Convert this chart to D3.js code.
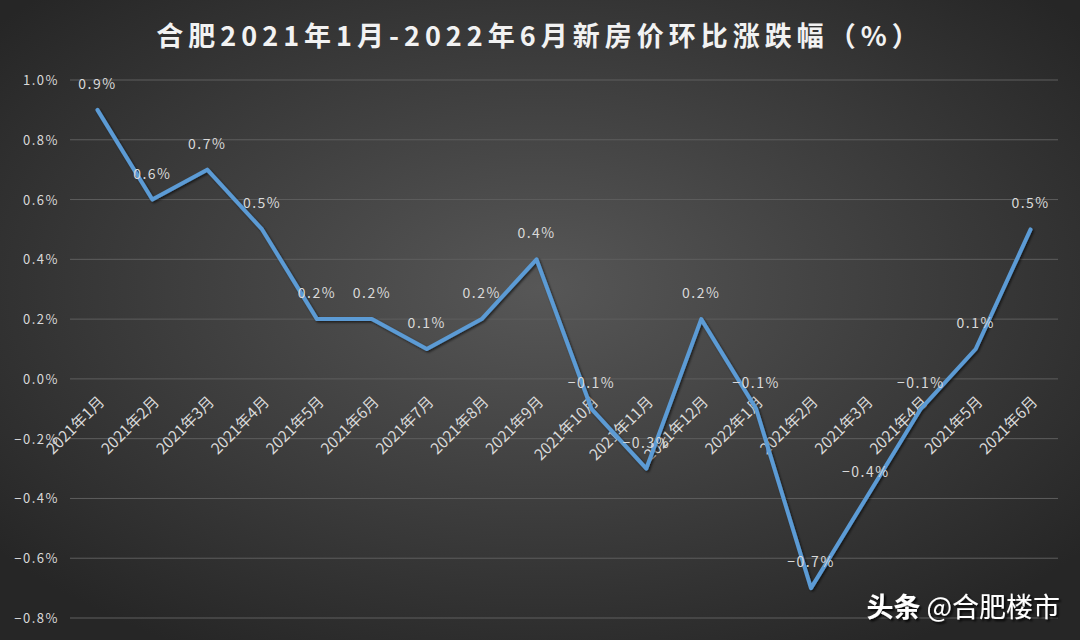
<!DOCTYPE html>
<html>
<head>
<meta charset="utf-8">
<script src="https://cdn.jsdelivr.net/npm/d3@7"></script>
<style>
  html, body { margin: 0; padding: 0; background: #333; }
  svg { display: block; }
</style>
</head>
<body>
<div id="chart"></div>
<script>
// Data
const months = ['2021年1月', '2021年2月', '2021年3月', '2021年4月', '2021年5月', '2021年6月',
    '2021年7月', '2021年8月', '2021年9月', '2021年10月', '2021年11月', '2021年12月',
    '2022年1月', '2021年2月', '2021年3月', '2021年4月', '2021年5月', '2021年6月'];
const changes = [0.9, 0.6, 0.7, 0.5, 0.2, 0.2, 0.1, 0.2, 0.4, -0.1, -0.3, 0.2, -0.1, -0.7, -0.4, -0.1, 0.1, 0.5];
const yTicks = [1.0, 0.8, 0.6, 0.4, 0.2, 0.0, -0.2, -0.4, -0.6, -0.8];

const W = 1080, H = 640;
const plotLeft = 70, plotRight = 1058, plotTop = 80, plotBottom = 618;
const font = '"Noto Sans CJK SC", "Noto Sans", sans-serif';

const data = months.map((m, i) => ({ i: i, month: m, value: changes[i] }));

const svg = d3.select('#chart').append('svg')
    .attr('width', W)
    .attr('height', H);

// Background gradient
const defs = svg.append('defs');
const grad = defs.append('radialGradient')
    .attr('id', 'bg')
    .attr('cx', '50%').attr('cy', '45%').attr('r', '65%');
grad.append('stop').attr('offset', '0%').attr('stop-color', '#575757');
grad.append('stop').attr('offset', '100%').attr('stop-color', '#262626');

const shadow = defs.append('filter').attr('id', 'shadow')
    .attr('x', '-5%').attr('y', '-5%').attr('width', '110%').attr('height', '110%');
shadow.append('feDropShadow')
    .attr('dx', 1.5).attr('dy', 1.5).attr('stdDeviation', 1.2)
    .attr('flood-color', '#000').attr('flood-opacity', 0.6);

const textShadow = defs.append('filter').attr('id', 'textShadow')
    .attr('x', '-5%').attr('y', '-20%').attr('width', '110%').attr('height', '140%');
textShadow.append('feDropShadow')
    .attr('dx', 2).attr('dy', 2).attr('stdDeviation', 1)
    .attr('flood-color', '#000').attr('flood-opacity', 0.9);

svg.append('rect')
    .attr('width', W).attr('height', H)
    .attr('fill', 'url(#bg)');

// Scales
const x = d3.scaleBand()
    .domain(data.map(d => d.i))
    .range([plotLeft, plotRight]);

const y = d3.scaleLinear()
    .domain([-0.8, 1.0])
    .range([plotBottom, plotTop]);

const cx = d => x(d.i) + x.bandwidth() / 2;

// Gridlines
svg.append('g')
    .selectAll('line')
    .data(yTicks)
    .enter().append('line')
    .attr('x1', plotLeft).attr('x2', plotRight)
    .attr('y1', d => y(d)).attr('y2', d => y(d))
    .attr('stroke', '#5e5e5e')
    .attr('stroke-width', 1);

// Y axis labels
svg.append('g')
    .selectAll('text')
    .data(yTicks)
    .enter().append('text')
    .attr('x', 59)
    .attr('y', d => y(d) + 5)
    .attr('text-anchor', 'end')
    .attr('fill', '#d9d9d9')
    .style('font-family', font)
    .style('font-size', '13px')
    .style('letter-spacing', '1.5px')
    .text(d => d.toFixed(1).replace('-', '−') + '%');

// X axis labels at the zero line
svg.append('g')
    .selectAll('text')
    .data(data)
    .enter().append('text')
    .attr('text-anchor', 'end')
    .attr('transform', d => 'translate(' + (cx(d) + 8) + ',' + (y(0) + 24) + ') rotate(-45)')
    .attr('fill', '#d9d9d9')
    .style('font-family', font)
    .style('font-size', '15.5px')
    .text(d => d.month);

// Line
svg.append('path')
    .datum(data)
    .attr('fill', 'none')
    .attr('stroke', '#5b9bd5')
    .attr('stroke-width', 4)
    .attr('stroke-linejoin', 'round')
    .attr('stroke-linecap', 'round')
    .attr('filter', 'url(#shadow)')
    .attr('d', d3.line()
        .x(d => cx(d))
        .y(d => y(d.value)));

// Data labels
svg.append('g')
    .selectAll('text')
    .data(data)
    .enter().append('text')
    .attr('x', d => cx(d))
    .attr('y', d => y(d.value) - 21)
    .attr('text-anchor', 'middle')
    .attr('fill', '#d9d9d9')
    .style('font-family', font)
    .style('font-size', '14px')
    .style('letter-spacing', '1.5px')
    .text(d => d.value.toFixed(1).replace('-', '−') + '%');

// Title
svg.append('text')
    .attr('x', W / 2)
    .attr('y', 46)
    .attr('text-anchor', 'middle')
    .attr('fill', '#f2f2f2')
    .style('font-family', font)
    .style('font-size', '27px')
    .style('font-weight', 'bold')
    .style('letter-spacing', '5px')
    .text('合肥2021年1月-2022年6月新房价环比涨跌幅（%）');

// Watermark
const wm = svg.append('text')
    .attr('x', 1060)
    .attr('y', 617)
    .attr('text-anchor', 'end')
    .attr('fill', '#ffffff')
    .attr('filter', 'url(#textShadow)')
    .style('font-family', font)
    .style('font-size', '27px');
wm.append('tspan').style('font-weight', 'bold').text('头条');
wm.append('tspan').text(' @合肥楼市');
</script>
</body>
</html>
